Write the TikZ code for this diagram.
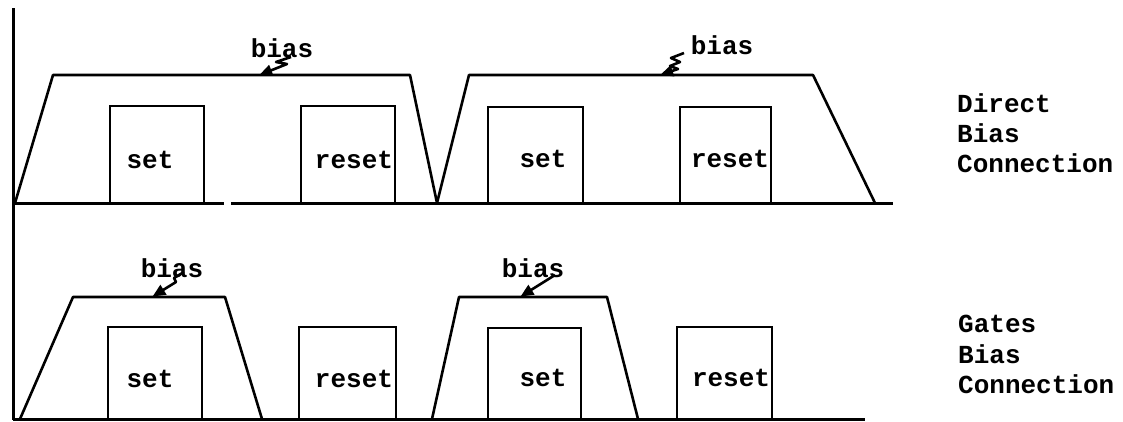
\documentclass[tikz,border=0pt]{standalone}
\usepackage{fontspec}
\setmonofont{Liberation Mono}
\usetikzlibrary{arrows.meta}
\tikzset{
  axis/.style={line width=3pt},
  wave/.style={line width=2.6pt, line join=round},
  gate/.style={line width=2.2pt},
  lbl/.style={font=\fontsize{26}{30}\selectfont\ttfamily\bfseries, inner sep=0pt, anchor=base},
  side/.style={font=\fontsize{26}{30}\selectfont\ttfamily\bfseries, inner sep=0pt, anchor=base west},
  biasarrow/.style={line width=2.6pt, -{Triangle[length=13pt,width=11pt]}, line join=round, shorten >=-3pt}
}
\begin{document}
\begin{tikzpicture}[x=1pt,y=-1pt]
\useasboundingbox (0,0) rectangle (1123,421);
% axis
\draw[axis] (13,8) -- (13,420);
% upper baseline
\draw[axis] (13,203) -- (224,203);
\draw[axis] (231,203) -- (893,203);
% lower baseline
\draw[axis] (13,419) -- (865,419);

% upper trapezoids
\draw[wave] (15,203) -- (53,75) -- (410,75) -- (437,203) -- (469,75) -- (813,75) -- (875,203);
% lower trapezoids
\draw[wave] (20,419) -- (73,297) -- (225,297) -- (262,419);
\draw[wave] (432,419) -- (459,297) -- (607,297) -- (638,419);

% upper gate pulses
\draw[gate] (110,203) -- (110,106) -- (204,106) -- (204,203);
\draw[gate] (301,203) -- (301,106) -- (395,106) -- (395,203);
\draw[gate] (488,203) -- (488,107) -- (583,107) -- (583,203);
\draw[gate] (680,203) -- (680,107) -- (771,107) -- (771,203);
% lower gate pulses
\draw[gate] (108,419) -- (108,327) -- (202,327) -- (202,419);
\draw[gate] (299,419) -- (299,327) -- (396,327) -- (396,419);
\draw[gate] (488,419) -- (488,328) -- (581,328) -- (581,419);
\draw[gate] (677,419) -- (677,327) -- (772,327) -- (772,419);

% pulse labels
\node[lbl] (s1) at (150,168) {set};
\node[lbl] (r1) at (354,168) {reset};
\node[lbl] (s2) at (543,167) {set};
\node[lbl] (r2) at (730,167) {reset};
\node[lbl] (s3) at (150,387) {set};
\node[lbl] (r3) at (354,387) {reset};
\node[lbl] (s4) at (543,386) {set};
\node[lbl] (r4) at (731,386) {reset};

% bias labels
\node[lbl] (b1) at (282,57) {bias};
\node[lbl] (b2) at (722,54) {bias};
\node[lbl] (b3) at (172,277) {bias};
\node[lbl] (b4) at (533,277) {bias};

\coordinate (t1) at (262,74);
\coordinate (t2) at (663,74);
\coordinate (t3) at (155,295);
\coordinate (t4) at (523,295);
\draw[biasarrow] (291,57) -- (276,62) -- (287,64) -- (t1);
\draw[biasarrow] (684,53) -- (671,58) -- (680,62) -- (670,66) -- (678,69) -- (t2);
\draw[biasarrow] (184,272) -- (174,278) -- (176,282) -- (t3);
\draw[biasarrow] (555,275) -- (t4);

% side labels
\node[side] (d1) at (957,112) {Direct};
\node[side] (d2) at (957,142) {Bias};
\node[side] (d3) at (957,172) {Connection};
\node[side] (g1) at (958,332) {Gates};
\node[side] (g2) at (958,363) {Bias};
\node[side] (g3) at (958,393) {Connection};
\end{tikzpicture}
\end{document}
